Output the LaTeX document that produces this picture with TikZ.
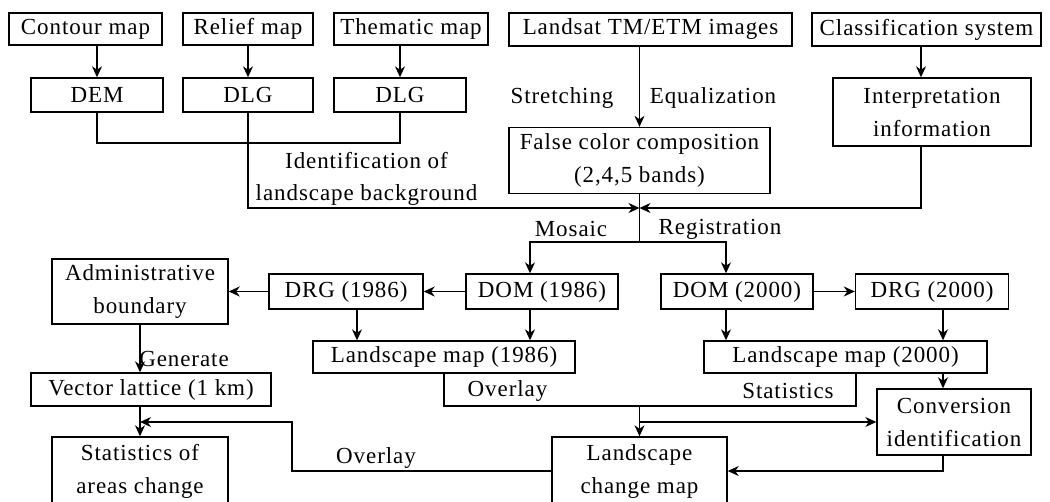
\documentclass[tikz,border=0pt]{standalone}
\usepackage{fontspec}
\setmainfont{Liberation Serif}[LetterSpace=4]
\usetikzlibrary{arrows.meta}
\begin{document}
\begin{tikzpicture}[x=1pt,y=-1pt,
  box/.style={draw, line width=1.4pt, inner sep=0pt, align=center, font=\fontsize{23}{33}\selectfont},
  lbl/.style={inner sep=0pt, align=center, font=\fontsize{23}{32}\selectfont},
  conn/.style={line width=1.4pt},
  arr/.style={conn, -{Stealth[length=11pt,width=10pt,inset=3.5pt]}}]
\useasboundingbox (0,0) rectangle (1050,501);
\clip (0,0) rectangle (1050,501);
% top row
\node[box, minimum width=153pt, minimum height=32pt] (contour) at (85.5,29) {Contour map};
\node[box, minimum width=130pt, minimum height=32pt] (relief) at (248,29) {Relief map};
\node[box, minimum width=154pt, minimum height=32pt] (thematic) at (411,29) {Thematic map};
\node[box, minimum width=283pt, minimum height=33pt] (landsat) at (650.5,29.5) {Landsat TM/ETM images};
\node[box, minimum width=229pt, minimum height=33pt] (classif) at (926.5,29.5) {Classification system};
% second row
\node[box, minimum width=132pt, minimum height=34pt] (dem) at (97,95) {DEM};
\node[box, minimum width=130pt, minimum height=34pt] (dlga) at (248,95) {DLG};
\node[box, minimum width=132pt, minimum height=34pt] (dlgb) at (400,95) {DLG};
\node[box, minimum width=261pt, minimum height=66pt] (false) at (639.5,160.5) {False color composition\\(2,4,5 bands)};
\node[box, minimum width=198pt, minimum height=68pt] (interp) at (932,112) {Interpretation\\information};
% third row
\node[box, minimum width=176pt, minimum height=65pt] (admin) at (140,291.5) {Administrative\\boundary};
\node[box, minimum width=154pt, minimum height=35pt] (drga) at (346,291.5) {DRG (1986)};
\node[box, minimum width=152pt, minimum height=35pt] (doma) at (542,291.5) {DOM (1986)};
\node[box, minimum width=152pt, minimum height=35pt] (domb) at (737,291.5) {DOM (2000)};
\node[box, minimum width=153pt, minimum height=35pt] (drgb) at (932,291.5) {DRG (2000)};
% fourth row
\node[box, minimum width=262pt, minimum height=32pt] (landa) at (444,357) {Landscape map (1986)};
\node[box, minimum width=283pt, minimum height=32pt] (landb) at (845.5,357) {Landscape map (2000)};
\node[box, minimum width=240pt, minimum height=33pt] (vector) at (151,389.5) {Vector lattice (1 km)};
\node[box, minimum width=154pt, minimum height=66pt] (conv) at (954,422) {Conversion\\identification};
% bottom row
\node[box, minimum width=176pt, minimum height=68pt] (stats) at (140,471) {Statistics of\\areas change};
\node[box, minimum width=175pt, minimum height=68pt] (change) at (639.5,471) {Landscape\\change map};
% labels
\node[lbl] (lstretch) at (562,98) {Stretching};
\node[lbl] (lequal) at (713,98) {Equalization};
\node[lbl] (lident) at (366.5,179) {Identification of\\landscape background};
\node[lbl] (lmosaic) at (571,229) {Mosaic};
\node[lbl] (lreg) at (720,229) {Registration};
\node[lbl] (lgen) at (184,359) {Generate};
\node[lbl] (lovera) at (507.5,391) {Overlay};
\node[lbl] (lstat) at (788,391) {Statistics};
\node[lbl] (loverb) at (376,458) {Overlay};
% helper coordinates
\coordinate (jtop) at (248,143);
\coordinate (merge) at (639.5,208);
\coordinate (split) at (639.5,242);
\coordinate (ix) at (921,0);
\coordinate (ca) at (530,0);
\coordinate (cb) at (726,0);
\coordinate (da) at (357,0);
\coordinate (db) at (943,0);
\coordinate (sb) at (856,0);
\coordinate (ov) at (639.5,406);
\coordinate (ob) at (292,422);
% connectors top
\draw[arr] (contour.south -| dem) -- (dem.north);
\draw[arr] (relief.south -| dlga) -- (dlga.north);
\draw[arr] (thematic.south -| dlgb) -- (dlgb.north);
\draw[conn] (dem.south) -- (dem.south |- jtop) -- (dlgb.south |- jtop) -- (dlgb.south);
\draw[arr] (dlga.south) |- (merge);
\draw[arr] (landsat.south -| false) -- (false.north);
\draw[arr] (classif.south -| ix) -- (interp.north -| ix);
\draw[arr] (interp.south -| ix) |- (merge);
\draw[conn] (false.south) -- (split);
\draw[arr] (split) -| (ca |- doma.north);
\draw[arr] (split) -| (cb |- domb.north);
% third row connectors
\draw[arr] (doma.west) -- (drga.east);
\draw[arr] (drga.west) -- (admin.east);
\draw[arr] (domb.east) -- (drgb.west);
\draw[arr] (ca |- doma.south) -- (ca |- landa.north);
\draw[arr] (da |- drga.south) -- (da |- landa.north);
\draw[arr] (cb |- domb.south) -- (cb |- landb.north);
\draw[arr] (db |- drgb.south) -- (db |- landb.north);
\draw[arr] (db |- landb.south) -- (db |- conv.north);
% overlay
\draw[conn] (landa.south) |- (ov) -| (sb |- landb.south);
\draw[arr] (ov) -- (change.north);
\draw[arr] (ov |- conv.west) -- (conv.west);
\draw[arr] (db |- conv.south) |- (change.east);
% left column
\draw[arr] (admin.south) -- (admin.south |- vector.north);
\draw[arr] (admin.south |- vector.south) -- (admin.south |- stats.north);
\draw[arr] (change.west) -| (ob) -- (admin.south |- ob);
\end{tikzpicture}
\end{document}
